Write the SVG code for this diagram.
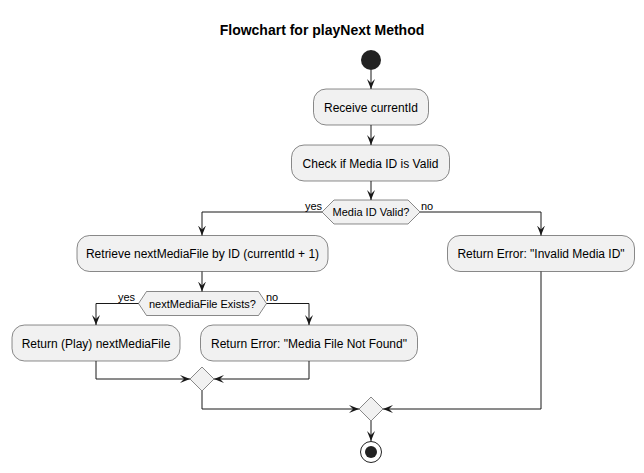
<svg xmlns="http://www.w3.org/2000/svg" width="644" height="473" viewBox="0 0 644 473">
<style>
.box{fill:#F1F1F1;stroke:#181818;stroke-width:0.5}
.t{font-family:"Liberation Sans",Arial,sans-serif;font-size:12px;fill:#000;text-anchor:middle}
.s{font-family:"Liberation Sans",Arial,sans-serif;font-size:11px;fill:#000}
.c{fill:none;stroke:#181818;stroke-width:1}
.ah{fill:#181818;stroke:#181818;stroke-width:1}
</style>
<defs>
<marker id="arr" viewBox="0 0 10 8" refX="10" refY="4" markerWidth="10" markerHeight="8" markerUnits="userSpaceOnUse" orient="auto">
<polygon points="0,0 10,4 0,8 4,4" fill="#181818"/>
</marker>
</defs>
<rect width="644" height="473" fill="#FFFFFF"/>
<text x="322" y="35" font-family="'Liberation Sans',Arial,sans-serif" font-size="14" font-weight="bold" text-anchor="middle">Flowchart for playNext Method</text>

<g id="start"><circle cx="371" cy="60" r="10" fill="#222222"/></g>
<g id="n1"><rect class="box" x="313.5" y="89" width="115" height="36" rx="12.5"/><text class="t" x="371" y="111.5">Receive currentId</text></g>
<g id="n2"><rect class="box" x="291.5" y="145" width="158" height="36" rx="12.5"/><text class="t" x="370.5" y="167.5">Check if Media ID is Valid</text></g>
<g id="d1"><polygon class="box" points="322,212 334,200 408,200 420,212 408,224 334,224"/><text class="s" x="371" y="216" text-anchor="middle">Media ID Valid?</text></g>
<g id="n3"><rect class="box" x="77" y="235.5" width="251" height="36" rx="12.5"/><text class="t" x="202.5" y="258">Retrieve nextMediaFile by ID (currentId + 1)</text></g>
<g id="n4"><rect class="box" x="447.5" y="235.5" width="187" height="36" rx="12.5"/><text class="t" x="541" y="258">Return Error: "Invalid Media ID"</text></g>
<g id="d2"><polygon class="box" points="138.5,303.5 146.5,291.5 258.5,291.5 266.5,303.5 258.5,315.5 146.5,315.5"/><text class="s" x="202.5" y="308" text-anchor="middle">nextMediaFile Exists?</text></g>
<g id="n5"><rect class="box" x="12" y="325" width="168" height="36" rx="12.5"/><text class="t" x="96" y="347.5">Return (Play) nextMediaFile</text></g>
<g id="n6"><rect class="box" x="200.5" y="325" width="217" height="36" rx="12.5"/><text class="t" x="309" y="347.5">Return Error: "Media File Not Found"</text></g>
<g id="m1"><polygon class="box" points="202,367 214,379 202,391 190,379"/></g>
<g id="m2"><polygon class="box" points="371,397 383,409 371,421 359,409"/></g>
<g id="end"><circle cx="371" cy="452" r="10.5" fill="none" stroke="#222222" stroke-width="1"/><circle cx="371" cy="452" r="6" fill="#222222"/></g>

<g id="connectors">
<path class="c" d="M371,70 L371,89" marker-end="url(#arr)"/>
<path class="c" d="M371,125 L371,145" marker-end="url(#arr)"/>
<path class="c" d="M371,181 L371,200" marker-end="url(#arr)"/>
<path class="c" d="M322,212 L202,212 L202,235.5" marker-end="url(#arr)"/>
<path class="c" d="M420,212 L541,212 L541,235.5" marker-end="url(#arr)"/>
<path class="c" d="M202,271.5 L202,291.5" marker-end="url(#arr)"/>
<path class="c" d="M138.5,303.5 L96,303.5 L96,325" marker-end="url(#arr)"/>
<path class="c" d="M266.5,303.5 L309,303.5 L309,325" marker-end="url(#arr)"/>
<path class="c" d="M96,361 L96,379 L190,379" marker-end="url(#arr)"/>
<path class="c" d="M309,361 L309,379 L214,379" marker-end="url(#arr)"/>
<path class="c" d="M202,391 L202,409 L359,409" marker-end="url(#arr)"/>
<path class="c" d="M541,271.5 L541,409 L383,409" marker-end="url(#arr)"/>
<path class="c" d="M371,421 L371,441" marker-end="url(#arr)"/>
<text class="s" x="305" y="210">yes</text>
<text class="s" x="421" y="210">no</text>
<text class="s" x="118" y="301">yes</text>
<text class="s" x="266" y="301">no</text>
</g>
</svg>
